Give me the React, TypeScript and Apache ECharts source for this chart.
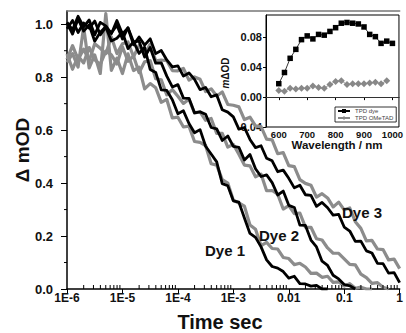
import React, { useEffect, useRef } from 'react';
import * as echarts from 'echarts';

// log10(time / s) sample points shared by the transient curves
const logTime = [-6.0,-5.9,-5.8,-5.7,-5.6,-5.5,-5.4,-5.3,-5.2,-5.1,-5.0,-4.9,-4.8,-4.7,-4.6,-4.5,-4.4,-4.3,-4.2,-4.1,-4.0,-3.9,-3.8,-3.7,-3.6,-3.5,-3.4,-3.3,-3.2,-3.1,-3.0,-2.9,-2.8,-2.7,-2.6,-2.5,-2.4,-2.3,-2.2,-2.1,-2.0,-1.9,-1.8,-1.7,-1.6,-1.5,-1.4,-1.3,-1.2,-1.1,-1.0,-0.9,-0.8,-0.7,-0.6,-0.5,-0.4,-0.3,-0.2,-0.1,0.0];

const dye1Black = [1.005,0.963,1.02,0.974,0.997,0.936,0.97,0.99,0.937,0.947,0.97,0.908,0.934,0.89,0.913,0.829,0.818,0.752,0.75,0.715,0.662,0.673,0.625,0.59,0.602,0.539,0.51,0.48,0.398,0.39,0.333,0.328,0.268,0.21,0.195,0.159,0.11,0.085,0.079,0.066,0.041,0.048,0.02,0.019,0.011,0.014,0.0,0.0];
const dye1Gray = [0.856,0.889,0.838,0.99,0.835,0.884,0.814,1.04,0.826,0.872,0.814,0.888,0.825,0.838,0.756,0.776,0.76,0.705,0.716,0.646,0.649,0.612,0.615,0.557,0.554,0.542,0.473,0.468,0.413,0.40,0.335,0.325,0.313,0.242,0.226,0.164,0.176,0.153,0.151,0.119,0.115,0.092,0.097,0.083,0.059,0.06,0.044,0.048,0.025,0.027,0.011,0.02,0.003,0.007,0.0,0.0];
const dye2Black = [0.983,1.014,0.969,1.005,0.985,1.012,0.96,0.989,0.967,0.996,0.944,0.987,0.933,0.936,0.876,0.912,0.853,0.854,0.804,0.763,0.772,0.721,0.72,0.665,0.669,0.66,0.61,0.605,0.561,0.578,0.539,0.535,0.487,0.508,0.454,0.425,0.431,0.402,0.355,0.37,0.316,0.308,0.241,0.24,0.185,0.159,0.105,0.089,0.052,0.038,0.017,0.012,0.0];
const dye2Gray = [0.888,0.83,0.88,0.854,0.912,0.866,0.848,0.898,0.884,0.85,0.915,0.86,0.88,0.817,0.858,0.863,0.794,0.79,0.733,0.753,0.728,0.701,0.717,0.665,0.669,0.637,0.644,0.588,0.588,0.536,0.546,0.509,0.468,0.465,0.424,0.434,0.371,0.372,0.358,0.302,0.315,0.285,0.287,0.234,0.233,0.19,0.185,0.155,0.135,0.135,0.114,0.093,0.091,0.056,0.043,0.021,0.024,0.007,0.0];
const dye3Black = [1.007,0.979,1.03,0.99,1.016,0.96,1.007,0.994,0.964,1.014,0.963,0.986,0.922,0.952,0.921,0.945,0.889,0.901,0.865,0.839,0.843,0.804,0.816,0.792,0.753,0.761,0.726,0.733,0.677,0.668,0.65,0.604,0.61,0.565,0.534,0.541,0.494,0.484,0.443,0.449,0.418,0.382,0.392,0.356,0.354,0.312,0.327,0.307,0.279,0.282,0.234,0.219,0.18,0.181,0.144,0.136,0.097,0.096,0.06,0.062,0.024];
const dye3Gray = [0.867,0.919,0.867,0.906,0.862,0.926,0.909,0.889,0.953,0.889,0.926,0.933,0.877,0.92,0.887,0.925,0.862,0.865,0.862,0.825,0.824,0.833,0.789,0.801,0.792,0.746,0.756,0.729,0.744,0.697,0.694,0.688,0.64,0.649,0.616,0.613,0.566,0.563,0.511,0.515,0.466,0.462,0.413,0.399,0.392,0.347,0.36,0.344,0.31,0.328,0.299,0.306,0.254,0.229,0.182,0.184,0.151,0.149,0.11,0.113,0.077];

const xTickLabels = ['1E-6', '1E-5', '1E-4', '1E-3', '0.01', '0.1', '1'];
const yTickValues = [0, 0.2, 0.4, 0.6, 0.8, 1.0];
const yMinorTicks = [0.1, 0.3, 0.5, 0.7, 0.9];
const minorMultipliers = [2, 3, 4, 5, 6, 7, 8, 9];
const decades = [-6, -5, -4, -3, -2, -1];
const curveLabels = ['Dye 1', 'Dye 2', 'Dye 3'];

// inset
const wavelength = [600,620,640,660,680,700,720,740,760,780,800,820,840,860,880,900,920,940,960,980,1000];
const tpdDye = [0.018,0.033,0.052,0.064,0.077,0.082,0.078,0.084,0.083,0.088,0.093,0.099,0.100,0.099,0.098,0.094,0.084,0.081,0.072,0.075,0.072];
const tpdOMeTAD = [0.009,0.008,0.012,0.011,0.012,0.012,0.015,0.013,0.012,0.017,0.021,0.022,0.017,0.018,0.018,0.018,0.019,0.020,0.018,0.022];
const insetXTicks = [600, 700, 800, 900, 1000];
const insetYTicks = [-0.04, 0, 0.04, 0.08];

const FONT = "'Liberation Sans', Arial, Helvetica, sans-serif";
const BLACK = '#000000';
const GRAY = '#8c8c8c';

function toPairs(vals: number[]) {
  return vals.map((v, i) => [Math.pow(10, logTime[i]), v]);
}

export default function App() {
  const ref = useRef<HTMLDivElement>(null);
  useEffect(() => {
    if (!ref.current) return;
    const chart = echarts.init(ref.current, null, { renderer: 'svg' });
    const minorX: number[][] = [];
    decades.forEach((d) => minorMultipliers.forEach((m) => minorX.push([m * Math.pow(10, d), 0])));

    const curve = (name: string, vals: number[], color: string, width: number) => ({
      type: 'line',
      name,
      xAxisIndex: 0,
      yAxisIndex: 0,
      data: toPairs(vals),
      showSymbol: false,
      symbol: 'none',
      silent: true,
      z: 3,
      lineStyle: { color, width, join: 'round' },
      itemStyle: { color },
    });

    const option: any = {
      animation: false,
      backgroundColor: '#ffffff',
      grid: [
        { left: 67, top: 11, width: 340, height: 278 },
        { left: 266, top: 15, width: 134, height: 112, show: true, backgroundColor: '#ffffff', borderColor: '#000', borderWidth: 1 },
      ],
      xAxis: [
        {
          type: 'log', gridIndex: 0, logBase: 10, min: 1e-6, max: 1, splitNumber: 6,
          axisLine: { show: true, lineStyle: { color: '#000', width: 1.5 } },
          axisTick: { show: true, length: 5, inside: false, lineStyle: { color: '#000', width: 1 } },
          axisLabel: {
            margin: 3, fontFamily: FONT, fontWeight: 'bold', fontSize: 12, color: '#111',
            formatter: (v: number) => xTickLabels[Math.round(Math.log10(v)) + 6] ?? '',
          },
          splitLine: { show: false },
        },
        {
          type: 'value', gridIndex: 0, position: 'top', min: 0, max: 1,
          axisLine: { show: true, lineStyle: { color: '#777', width: 1.5 } },
          axisTick: { show: false }, axisLabel: { show: false }, splitLine: { show: false },
        },
        {
          type: 'value', gridIndex: 1, min: 555, max: 1023,
          axisLine: { show: true, lineStyle: { color: '#000', width: 1 } },
          axisTick: { show: true, length: 3, customValues: insetXTicks, lineStyle: { color: '#000' } },
          axisLabel: {
            customValues: insetXTicks, margin: 2, fontFamily: FONT, fontWeight: 'bold', fontSize: 9.5, color: '#111',
            formatter: (v: number) => String(Math.round(v)),
          },
          splitLine: { show: false },
        },
      ],
      yAxis: [
        {
          type: 'value', gridIndex: 0, min: 0, max: 1.05, interval: 0.2,
          axisLine: { show: true, lineStyle: { color: '#000', width: 1.5 } },
          axisTick: { show: true, length: 6, customValues: yTickValues, lineStyle: { color: '#000', width: 1 } },
          axisLabel: {
            customValues: yTickValues, margin: 14, fontFamily: FONT, fontWeight: 'bold', fontSize: 13, color: '#111',
            formatter: (v: number) => (Math.abs(v * 5 - Math.round(v * 5)) < 1e-6 ? v.toFixed(1) : ''),
          },
          splitLine: { show: false },
        },
        {
          type: 'value', gridIndex: 1, min: -0.04, max: 0.11, interval: 0.04,
          axisLine: { show: true, lineStyle: { color: '#000', width: 1 } },
          axisTick: { show: true, length: 3, customValues: insetYTicks, lineStyle: { color: '#000' } },
          axisLabel: {
            customValues: insetYTicks, margin: 4, fontFamily: FONT, fontWeight: 'bold', fontSize: 11, color: '#111',
            formatter: (v: number) => (Math.abs(v * 25 - Math.round(v * 25)) < 1e-6 ? v.toFixed(2) : ''),
          },
          splitLine: { show: false },
        },
      ],
      legend: {
        show: true, left: 335, top: 107, orient: 'vertical', data: ['TPD dye', 'TPD OMeTAD'],
        itemWidth: 12, itemHeight: 5, itemGap: 1, padding: [1, 3, 1, 2], selectedMode: false,
        borderColor: '#000', borderWidth: 0.8, backgroundColor: '#fff',
        textStyle: { fontSize: 6, color: '#444', fontFamily: FONT },
      },
      series: [
        curve('Dye 1 gray', dye1Gray, GRAY, 3.2),
        curve('Dye 2 gray', dye2Gray, GRAY, 3.2),
        curve('Dye 3 gray', dye3Gray, GRAY, 3.2),
        curve('Dye 1 black', dye1Black, BLACK, 2.8),
        curve('Dye 2 black', dye2Black, BLACK, 2.8),
        curve('Dye 3 black', dye3Black, BLACK, 2.8),
        {
          type: 'custom', xAxisIndex: 0, yAxisIndex: 0, silent: true, z: 5, clip: false,
          data: minorX,
          renderItem: (_p: any, api: any) => {
            const pt = api.coord([api.value(0), api.value(1)]);
            return { type: 'line', shape: { x1: pt[0], y1: pt[1], x2: pt[0], y2: pt[1] - 4 }, style: { stroke: '#000', lineWidth: 1 } };
          },
        },
        {
          type: 'custom', xAxisIndex: 0, yAxisIndex: 0, silent: true, z: 5, clip: false,
          data: yMinorTicks.map((v) => [1e-6, v]),
          renderItem: (_p: any, api: any) => {
            const pt = api.coord([api.value(0), api.value(1)]);
            return { type: 'line', shape: { x1: pt[0], y1: pt[1], x2: pt[0] - 3, y2: pt[1] }, style: { stroke: '#000', lineWidth: 1 } };
          },
        },
        {
          type: 'line', name: 'TPD dye', xAxisIndex: 2, yAxisIndex: 1,
          data: tpdDye.map((v, i) => [wavelength[i], v]),
          symbol: 'rect', symbolSize: 5.5, showSymbol: true, silent: true, z: 4,
          lineStyle: { color: '#000', width: 0.8 }, itemStyle: { color: '#000' },
          markLine: {
            silent: true, symbol: ['none', 'none'], label: { show: false },
            lineStyle: { color: '#333', width: 1, type: 'solid' },
            data: [{ yAxis: 0 }],
          },
        },
        {
          type: 'line', name: 'TPD OMeTAD', xAxisIndex: 2, yAxisIndex: 1,
          data: tpdOMeTAD.map((v, i) => [wavelength[i], v]),
          symbol: 'diamond', symbolSize: 7, showSymbol: true, silent: true, z: 4,
          lineStyle: { color: '#888', width: 0.8 }, itemStyle: { color: '#888' },
        },
      ],
      graphic: [
        {
          type: 'text', x: 22, y: 150, rotation: Math.PI / 2, z: 50,
          style: { text: 'Δ mOD', font: `bold 19px ${FONT}`, fill: '#111', align: 'center', verticalAlign: 'middle' },
        },
        {
          type: 'text', x: 220, y: 322, z: 50,
          style: { text: 'Time sec', font: `bold 20px ${FONT}`, fill: '#111', align: 'center', verticalAlign: 'middle' },
        },
        {
          type: 'text', x: 225, y: 250, z: 50,
          style: { text: curveLabels[0], font: `bold 15px ${FONT}`, fill: '#111', align: 'center', verticalAlign: 'middle' },
        },
        {
          type: 'text', x: 279, y: 235, z: 50,
          style: { text: curveLabels[1], font: `bold 15px ${FONT}`, fill: '#111', align: 'center', verticalAlign: 'middle' },
        },
        {
          type: 'text', x: 362, y: 212, z: 50,
          style: { text: curveLabels[2], font: `bold 15px ${FONT}`, fill: '#111', align: 'center', verticalAlign: 'middle' },
        },
        {
          type: 'text', x: 337, y: 145, z: 50,
          style: { text: 'Wavelength / nm', font: `bold 11.5px ${FONT}`, fill: '#111', align: 'center', verticalAlign: 'middle' },
        },
        {
          type: 'text', x: 225, y: 73, rotation: Math.PI / 2, z: 50,
          style: {
            text: '{i|m}ΔOD', font: `bold 10px ${FONT}`, fill: '#111', align: 'center', verticalAlign: 'middle',
            rich: { i: { fontStyle: 'italic', fontWeight: 'bold', fontSize: 10, fontFamily: FONT, fill: '#111' } },
          },
        },
      ],
    };
    chart.setOption(option);
    return () => chart.dispose();
  }, []);
  return <div ref={ref} style={{ position: 'fixed', left: 0, top: 0, width: 406, height: 333 }} />;
}
